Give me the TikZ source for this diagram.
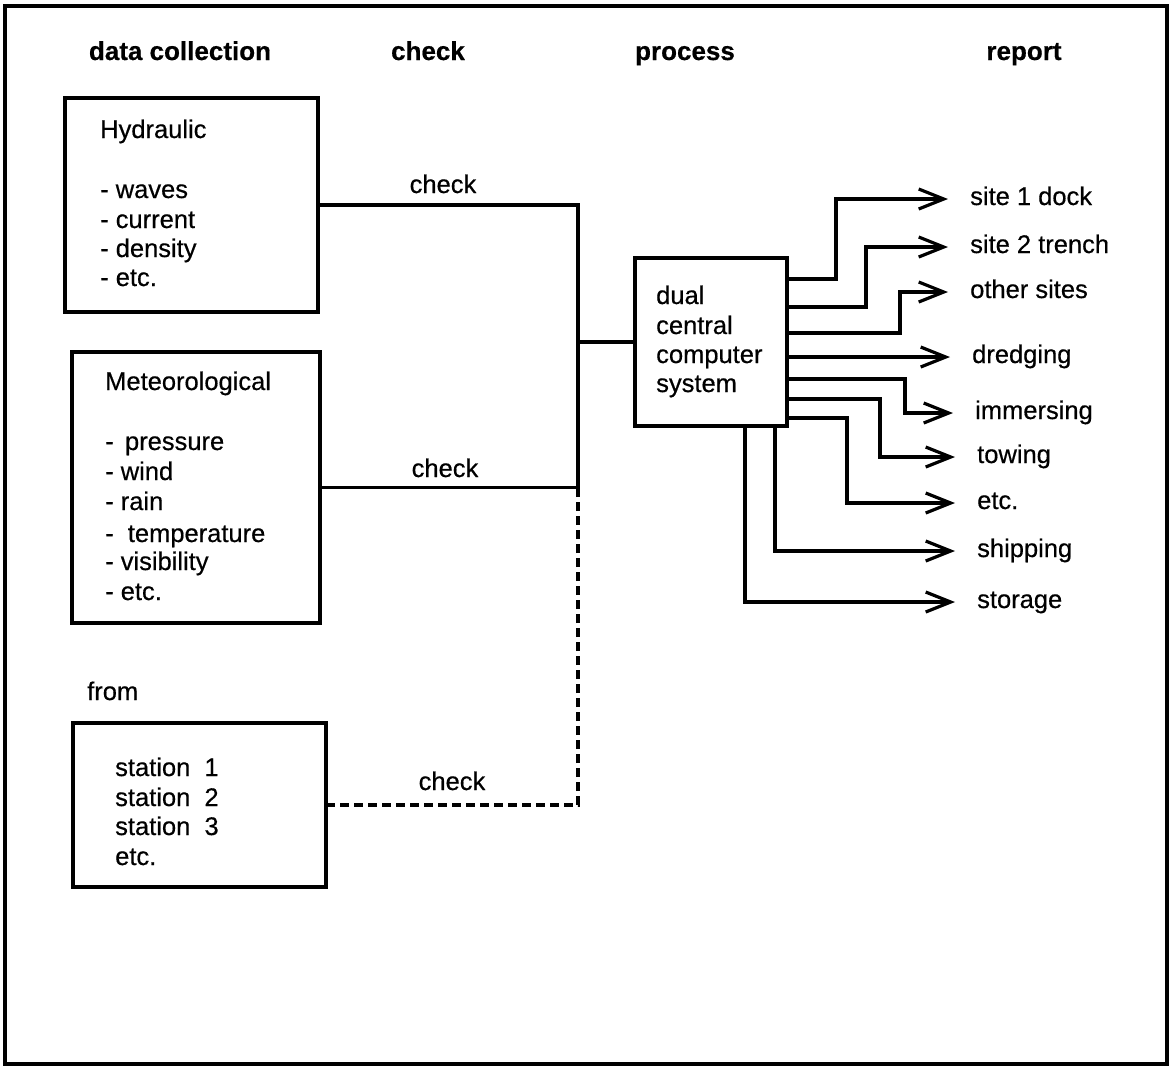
\documentclass[tikz,border=0pt]{standalone}
\usepackage{fontspec}
\setmainfont[FakeBold=0.5]{Liberation Sans}
\usetikzlibrary{arrows.meta}
\begin{document}
\begin{tikzpicture}[x=1pt,y=-1pt,
  txt/.style={font=\fontsize{25.5}{30}\selectfont, inner sep=0pt, anchor=base west},
  lbl/.style={font=\fontsize{25.5}{30}\selectfont, inner sep=0pt, anchor=base},
  hdr/.style={font=\fontsize{26}{30}\selectfont\bfseries, inner sep=0pt, anchor=base},
  box/.style={draw, line width=3.5pt, inner sep=0pt, outer sep=0pt, anchor=north west},
  wire/.style={line width=3.2pt},
  dwire/.style={line width=3.2pt, dash pattern=on 9pt off 5pt},
  arr/.style={line width=3.2pt, -{Straight Barb[length=25pt,width=20pt]}},
  rep/.style={font=\fontsize{25.5}{30}\selectfont, inner xsep=22pt, inner ysep=0pt, text height=18pt, text depth=6pt, anchor=west},
]
\useasboundingbox (0,0) rectangle (1171,1069);
\draw[line width=4pt] (5,6) rectangle (1167,1064);

% headers
\node[hdr] (h1) at (180,60) {data collection};
\node[hdr] (h2) at (428,60) {check};
\node[hdr] (h3) at (685,60) {process};
\node[hdr] (h4) at (1024,60) {report};

% boxes
\node[box, minimum width=253pt, minimum height=214pt] (hyd) at (65,98) {};
\node[box, minimum width=248pt, minimum height=271pt] (met) at (72,352) {};
\node[box, minimum width=253pt, minimum height=164pt] (sta) at (73,723) {};
\node[box, minimum width=152pt, minimum height=168pt] (cpu) at (635,258) {};

% hydraulic texts
\node[txt] (t1) at (100,138) {Hydraulic};
\node[txt] (t2) at (100,198) {- waves};
\node[txt] (t3) at (100,228) {- current};
\node[txt] (t4) at (100,257) {- density};
\node[txt] (t5) at (100,286) {- etc.};

% meteorological texts
\node[txt] (m1) at (105,390) {Meteorological};
\node[txt] (m2) at (105,450) {-\ \,pressure};
\node[txt] (m3) at (105,480) {- wind};
\node[txt] (m4) at (105,510) {- rain};
\node[txt] (m5) at (105,542) {-\ \ temperature};
\node[txt] (m6) at (105,570) {- visibility};
\node[txt] (m7) at (105,600) {- etc.};

% stations
\node[txt] (f0) at (87,700) {from};
\node[txt] (s1) at (115,776) {station\ \ 1};
\node[txt] (s2) at (115,806) {station\ \ 2};
\node[txt] (s3) at (115,835) {station\ \ 3};
\node[txt] (s4) at (115,865) {etc.};

% computer
\node[txt] (c1) at (656,304) {dual};
\node[txt] (c2) at (656,334) {central};
\node[txt] (c3) at (656,363) {computer};
\node[txt] (c4) at (656,392) {system};

% check wiring
\coordinate (jx) at (578,0);
\draw[wire] (hyd.east) -- (hyd.east -| jx) -- (met.east -| jx) -- (met.east);
\draw[wire] (cpu.west) -- (cpu.west -| jx);
\draw[dwire] (sta.east) -- (sta.east -| jx) -- (met.east -| jx);
\node[lbl] (k1) at (443,193) {check};
\node[lbl] (k2) at (445,477) {check};
\node[lbl] (k3) at (452,790) {check};

% report labels
\node[rep] (r1) at (948,199) {site 1 dock};
\node[rep] (r2) at (948,247) {site 2 trench};
\node[rep] (r3) at (948,292) {other sites};
\node[rep] (r4) at (950,357) {dredging};
\node[rep] (r5) at (953,413) {immersing};
\node[rep] (r6) at (955,457) {towing};
\node[rep] (r7) at (955,503) {etc.};
\node[rep] (r8) at (955,551) {shipping};
\node[rep] (r9) at (955,602) {storage};

% report arrows
\draw[arr] (cpu.east |- 0,279) -| (836,0 |- r1.west) -- (r1.west);
\draw[arr] (cpu.east |- 0,307) -| (866,0 |- r2.west) -- (r2.west);
\draw[arr] (cpu.east |- 0,333) -| (900,0 |- r3.west) -- (r3.west);
\draw[arr] (cpu.east |- r4.west) -- (r4.west);
\draw[arr] (cpu.east |- 0,379) -| (905,0 |- r5.west) -- (r5.west);
\draw[arr] (cpu.east |- 0,399) -| (880,0 |- r6.west) -- (r6.west);
\draw[arr] (cpu.east |- 0,418) -| (847,0 |- r7.west) -- (r7.west);
\draw[arr] (cpu.south -| 775,0) |- (r8.west);
\draw[arr] (cpu.south -| 745,0) |- (r9.west);
\end{tikzpicture}
\end{document}
